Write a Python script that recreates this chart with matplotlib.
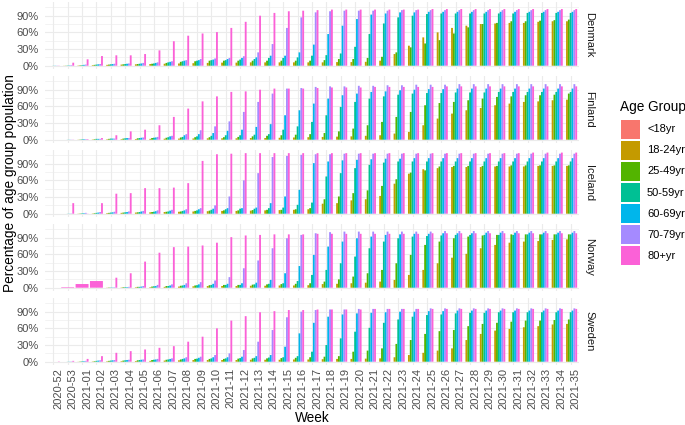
import matplotlib
matplotlib.use("Agg")
import matplotlib.pyplot as plt
from matplotlib.patches import Rectangle
from matplotlib.ticker import FuncFormatter

plt.rcParams["font.family"] = ["Liberation Sans", "DejaVu Sans"]

weeks = ["2020-52", "2020-53", "2021-01", "2021-02", "2021-03", "2021-04", "2021-05",
         "2021-06", "2021-07", "2021-08", "2021-09", "2021-10", "2021-11", "2021-12",
         "2021-13", "2021-14", "2021-15", "2021-16", "2021-17", "2021-18", "2021-19",
         "2021-20", "2021-21", "2021-22", "2021-23", "2021-24", "2021-25", "2021-26",
         "2021-27", "2021-28", "2021-29", "2021-30", "2021-31", "2021-32", "2021-33",
         "2021-34", "2021-35"]
countries = ["Denmark", "Finland", "Iceland", "Norway", "Sweden"]
age_groups = ["<18yr", "18-24yr", "25-49yr", "50-59yr", "60-69yr", "70-79yr", "80+yr"]
colors = ["#F8766D", "#C49A00", "#53B400", "#00C094", "#00B6EB", "#A58AFF", "#FB61D7"]

# cumulative share vaccinated (%), <18yr is not vaccinated in this period
denmark = {
    "18-24yr": [0, 0.2, 0.5, 1, 1.5, 2, 2.5, 3, 3.5, 4, 4.5, 5, 5.5, 5.5, 6, 6, 6, 6, 6, 6, 6.5,
                6.5, 7, 9, 21, 36, 51, 60, 68, 72, 75, 76, 77, 77, 79, 80, 80],
    "25-49yr": [0, 0.3, 0.8, 1.5, 2, 2.5, 3, 3.5, 5, 7, 8, 9, 9, 9, 9, 9, 9, 9, 9, 10, 12, 12,
                14, 16, 24, 33, 40, 46, 58, 69, 75, 77, 80, 80, 81, 82, 83],
    "50-59yr": [0.2, 0.5, 1, 2, 2.5, 3, 3.5, 4, 6, 8, 9, 10, 10, 11, 12, 14, 14, 15, 18, 19, 22,
                34, 57, 76, 87, 90, 93, 94, 94, 94, 94, 94, 94, 95, 95, 95, 95],
    "60-69yr": [0.3, 0.6, 1.5, 2.5, 3, 3.5, 4, 5, 7, 9, 10, 11, 12, 14, 15, 18, 18, 24, 38, 57,
                72, 84, 92, 94, 96, 96, 97, 97, 97, 97, 97, 97, 97, 97, 97, 97, 97],
    "70-79yr": [0.3, 1, 2, 3, 3.5, 4, 5, 6, 8, 10, 12, 13, 14, 17, 24, 39, 68, 87, 96, 98, 99,
                99, 99, 99, 100, 100, 100, 100, 100, 100, 100, 100, 100, 100, 100, 100, 100],
    "80+yr": [0.3, 5.4, 11.5, 17.4, 18.7, 18.7, 21, 27.6, 44, 54, 58, 60.5, 68, 79, 90, 95, 98,
              99, 100, 101, 101, 101, 101, 101, 101, 101, 102, 102, 102, 102, 102, 102, 102,
              102, 102, 102, 102],
}
finland = {
    "18-24yr": [0, 0, 0.3, 0.5, 0.8, 1, 1.2, 1.5, 1.8, 2, 2.2, 2.5, 2.5, 2.5, 3, 3, 3.5, 4, 4.5,
                5, 5.5, 6, 7, 8, 11, 14, 26, 38, 47, 53, 57, 62, 65, 68, 69, 71, 72],
    "25-49yr": [0, 0, 0.5, 1, 1.5, 2, 2.5, 3, 3.5, 4, 4.5, 4.5, 4.5, 5, 6, 7, 8, 9, 10, 12, 15,
                20, 26, 32, 41, 50, 62, 66, 68, 71, 74, 77, 78, 80, 80, 81, 83],
    "50-59yr": [0, 0.2, 0.8, 1.5, 2, 2.5, 3, 3.5, 4.5, 5, 6, 7, 8, 8, 9, 10, 18, 24, 32, 44, 59,
                68, 74, 78, 81, 83, 84, 84, 85, 85, 85, 86, 86, 86, 86, 86, 86],
    "60-69yr": [0, 0.3, 1, 1.5, 2, 3, 3.5, 4, 6, 8, 10, 12, 16, 18, 23, 28, 44, 53, 65, 74, 80,
                83, 86, 87, 89, 90, 91, 91, 92, 92, 92, 92, 92, 92, 92, 92, 92],
    "70-79yr": [0, 0.3, 1, 1.5, 2, 3, 4, 5, 7, 10, 17, 24, 33, 50, 68, 83, 92, 93, 95, 96, 96,
                97, 97, 98, 98, 99, 99, 99, 100, 100, 100, 100, 100, 100, 100, 100, 100],
    "80+yr": [0, 0.3, 1, 3, 8, 15, 18, 26, 41, 56, 69, 78, 86, 87, 90, 92, 92, 92, 93, 94, 94,
              94, 95, 95, 95, 95, 95, 96, 96, 96, 96, 96, 96, 96, 96, 96, 96],
}
iceland = {
    "18-24yr": [0, 0, 0.3, 0.5, 1, 1.5, 2, 2.5, 3, 3.5, 4, 4.5, 5, 5, 5.5, 6, 6.5, 7, 8, 18, 19,
                24, 26, 32, 54, 72, 80, 82, 84, 84, 84, 85, 85, 85, 86, 86, 86],
    "25-49yr": [0, 0, 0.5, 1, 1.5, 2, 2.5, 3, 3.5, 4, 5, 5.5, 6, 6, 6.5, 7, 7, 8, 10, 26, 31,
                37, 42, 50, 62, 74, 78, 85, 86, 86, 86, 86, 87, 87, 87, 87, 87],
    "50-59yr": [0, 0.2, 0.8, 1.5, 2, 2.5, 3, 3.5, 4, 5, 6, 7, 8, 9, 9, 10, 11, 16, 20, 67, 73,
                82, 88, 92, 94, 94, 94, 94, 94, 94, 94, 94, 94, 94, 94, 94, 94],
    "60-69yr": [0, 0.3, 1, 2, 2.5, 3, 4, 4.5, 5.5, 6, 8, 9, 10, 10, 11, 19, 31, 43, 91, 94, 96,
                97, 98, 99, 99, 100, 100, 100, 100, 100, 100, 100, 100, 100, 100, 100, 100],
    "70-79yr": [0, 0.5, 1.5, 3, 3.5, 4, 5, 6, 7, 8, 10, 15, 31, 60, 73, 102, 104, 106, 107, 107,
                108, 108, 108, 108, 108, 108, 108, 108, 108, 108, 108, 108, 108, 108, 108, 108,
                108],
    "80+yr": [0, 19, 0.3, 19, 36, 37, 46, 46, 47, 55, 95, 107, 108, 109, 109, 109, 109, 109, 109,
              109, 109, 109, 109, 109, 109, 109, 109, 109, 109, 109, 109, 109, 109, 110, 110,
              110, 110],
}
norway = {
    "18-24yr": [0, 0, 0, 0, 0.3, 0.5, 0.8, 1, 1.5, 2, 2.5, 3, 3, 3, 3.5, 3.5, 4, 4, 4.5, 6.5, 7,
                8, 9, 11, 14, 23, 32, 44, 54, 61, 71, 77, 81, 83, 84, 86, 87],
    "25-49yr": [0, 0, 0, 0, 0.5, 1, 1.5, 2, 3, 3.5, 4, 4.5, 5, 5, 5.5, 6, 6.5, 7, 8, 11, 15, 20,
                26, 32, 44, 59, 77, 83, 89, 92, 94, 95, 96, 96, 96, 96, 96],
    "50-59yr": [0, 0, 0, 0, 0.5, 1, 1.5, 2.5, 3, 4, 4.5, 5, 5, 5, 6, 7, 8, 12, 23, 32, 44, 56,
                71, 83, 89, 92, 93, 94, 95, 95, 95, 95, 95, 96, 96, 96, 96],
    "60-69yr": [0, 0, 0, 0, 0.5, 1, 2, 3, 4, 5, 6, 7, 7, 8, 9, 14, 26, 39, 59, 74, 83, 89, 92,
                95, 96, 97, 97, 98, 98, 98, 99, 99, 99, 99, 99, 99, 99],
    "70-79yr": [0, 0, 0, 0, 0.8, 1.5, 3, 5, 6, 8, 10, 13, 19, 35, 49, 71, 89, 95, 98, 100, 101,
                101, 101, 101, 101, 101, 101, 102, 102, 102, 102, 102, 102, 102, 102, 102, 102],
    "80+yr": [0, 1, 6.6, 12, 18, 26, 47, 63, 73, 74, 76, 81, 91, 94, 95, 96, 96, 96, 97, 97, 97,
              97, 97, 97, 97, 97, 98, 98, 98, 98, 98, 98, 98, 98, 98, 98, 98],
}
sweden = {
    "18-24yr": [0, 0, 0.2, 0.5, 0.8, 1, 1.2, 1.5, 2, 2.5, 3, 3, 3, 3, 3.5, 3.5, 3.5, 4, 4, 4.5,
                5, 5, 5.5, 6, 8, 12, 16, 20, 24, 39, 50, 56, 59, 62, 64, 67, 68],
    "25-49yr": [0, 0, 0.5, 1, 1.5, 2, 2.5, 3, 3.5, 4, 5, 5, 5, 5.5, 6, 6, 6.5, 7, 8, 9, 10, 18,
                20, 24, 32, 39, 50, 55, 57, 64, 68, 70, 72, 74, 74, 75, 76],
    "50-59yr": [0, 0.2, 0.8, 1.5, 2, 2.5, 3, 3.5, 4, 5, 5.5, 6, 6, 6.5, 7, 7.5, 8, 10, 18, 30,
                42, 54, 61, 70, 76, 81, 84, 85, 87, 88, 88, 89, 89, 89, 89, 89, 89],
    "60-69yr": [0, 0.3, 1, 2, 2.5, 3, 3.5, 4, 5, 6, 7, 8, 8, 9, 10, 12, 27, 51, 70, 81, 85, 87,
                88, 89, 90, 90, 91, 91, 92, 92, 92, 92, 92, 92, 92, 92, 92],
    "70-79yr": [0, 0.5, 1.5, 2.5, 3, 3.5, 4, 5, 6, 8, 9, 12, 15, 21, 36, 57, 80, 90, 93, 94, 94,
                95, 95, 95, 95, 95, 96, 96, 96, 96, 96, 96, 96, 96, 96, 96, 96],
    "80+yr": [0.5, 1.5, 5, 10, 16, 19, 22, 25, 28, 36, 45, 60, 74, 82, 89, 91, 93, 93, 94, 94,
              94, 94, 95, 95, 95, 95, 95, 95, 95, 95, 95, 95, 95, 95, 95, 95, 95],
}
# weeks where only the 80+ group has a record (ggplot dodge makes the bar full width)
norway_only_80 = ["2020-53", "2021-01", "2021-02"]

country_data = [denmark, finland, iceland, norway, sweden]

W, H = 685, 425
fig = plt.figure(figsize=(W / 100, H / 100), dpi=100)

left, right = 44.7, 579.3
zero_rows = [65.7, 139.7, 213.7, 287.7, 361.7]
px_per_pct = 50 / 90
ymin, ymax = -5.5, 115.5
grid_col = "#EBEBEB"

for ci, (name, data) in enumerate(zip(countries, country_data)):
    top = zero_rows[ci] - ymax * px_per_pct
    bot = zero_rows[ci] - ymin * px_per_pct
    ax = fig.add_axes([left / W, 1 - bot / H, (right - left) / W, (bot - top) / H])

    xs = {g: [] for g in age_groups}
    ws = {g: [] for g in age_groups}
    hs = {g: [] for g in age_groups}
    for j, wk in enumerate(weeks):
        if name == "Norway" and wk in norway_only_80:
            present = ["80+yr"]
        else:
            present = age_groups
        bw = 0.9 / len(present)
        for m, g in enumerate(present):
            xs[g].append(j - 0.45 + bw * (m + 0.5))
            ws[g].append(bw)
            hs[g].append(data[g][j] if g in data else 0)
    for g, c in zip(age_groups, colors):
        bars = ax.bar(xs[g], hs[g], width=ws[g], color=c, linewidth=0)
        for b in bars:
            b.set_snap(False)

    ax.set_xlim(-0.6, len(weeks) - 0.4)
    ax.set_ylim(ymin, ymax)
    ax.set_axisbelow(True)
    for s in ax.spines.values():
        s.set_visible(False)
    ax.set_yticks([0, 30, 60, 90])
    ax.set_yticks([15, 45, 75, 105], minor=True)
    ax.yaxis.set_major_formatter(FuncFormatter(lambda v, p: f"{int(v)}%"))
    ax.set_xticks(range(len(weeks)))
    ax.grid(True, which="major", color=grid_col, linewidth=0.8)
    ax.grid(True, which="minor", axis="y", color=grid_col, linewidth=0.4)
    ax.tick_params(which="both", length=0)
    ax.tick_params(axis="y", labelsize=8, labelcolor="#4D4D4D", pad=4.5)
    if ci == len(countries) - 1:
        ax.set_xticklabels(weeks, rotation=90, ha="left", va="top", fontsize=8,
                           color="#4D4D4D")
        ax.tick_params(axis="x", pad=2.5)
    else:
        ax.set_xticklabels([])

    fig.text(589 / W, 1 - (top + bot) / 2 / H, name, rotation=270, ha="center",
             va="center", fontsize=8, color="#1A1A1A")

fig.text(10 / W, 1 - 183 / H, "Percentage of age group population", rotation=90,
         ha="center", va="center", fontsize=9.8)
fig.text(312 / W, 1 - 417.5 / H, "Week", ha="center", va="center", fontsize=9.8)

# legend
fig.text(620 / W, 1 - 106.7 / H, "Age Group", ha="left", va="center", fontsize=9.8)
for k, (g, c) in enumerate(zip(age_groups, colors)):
    cy = 129.3 + k * 21.07
    fig.patches.append(Rectangle((621 / W, 1 - (cy + 9.5) / H), 19 / W, 19 / H,
                                 transform=fig.transFigure, color=c, linewidth=0))
    fig.text(647 / W, 1 - cy / H, g, ha="left", va="center", fontsize=8)

fig.savefig("out.png", dpi=100, facecolor="white")
